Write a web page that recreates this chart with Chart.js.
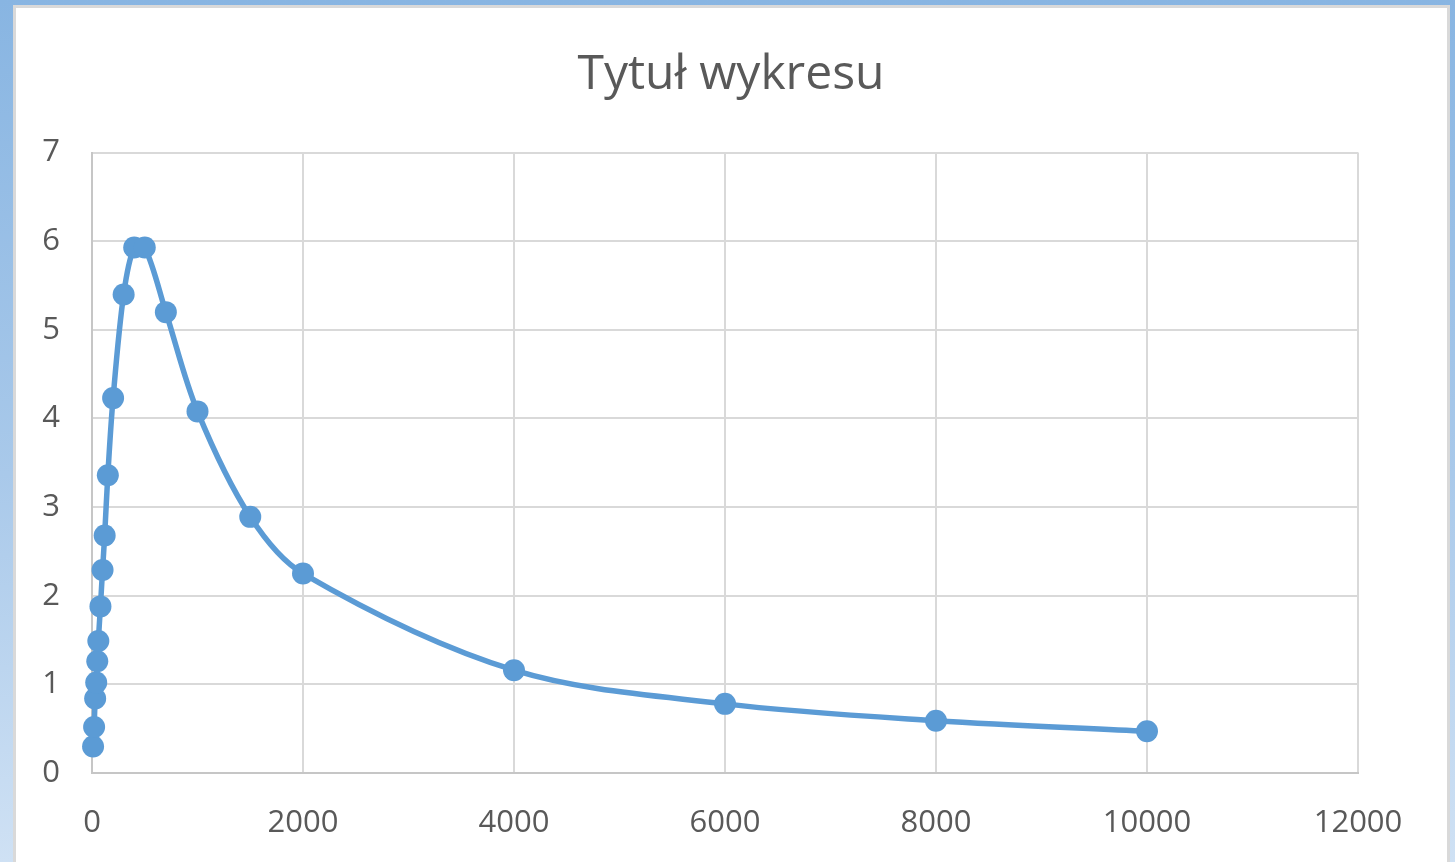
<!DOCTYPE html>
<html>
<head>
<meta charset="utf-8">
<script src="https://cdn.jsdelivr.net/npm/chart.js@4"></script>
<style>
  html, body { margin:0; padding:0; width:1455px; height:862px; overflow:hidden; }
  body { background: linear-gradient(180deg, #88b5e2 0%, #a9c9ea 55%, #cfe1f4 100%); position:relative; }
  #card { position:absolute; left:13px; top:5px; width:1431px; height:900px; background:#fff; border:3px solid #d9d9d9; border-bottom:none; }
  #c { position:absolute; left:0; top:0; }
</style>
</head>
<body>
<div id="card"></div>
<canvas id="c" width="1455" height="862"></canvas>
<script>
const chartTitle = "Tytuł wykresu";
const xValues = [10, 20, 30, 40, 50, 60, 80, 100, 120, 150, 200, 300, 400, 500, 700, 1000, 1500, 2000, 4000, 6000, 8000, 10000];
const yValues = [0.30, 0.52, 0.84, 1.02, 1.26, 1.49, 1.88, 2.29, 2.68, 3.36, 4.23, 5.40, 5.93, 5.93, 5.20, 4.08, 2.89, 2.25, 1.16, 0.78, 0.59, 0.47];
const xTicks = [0, 2000, 4000, 6000, 8000, 10000, 12000];
const yTicks = [0, 1, 2, 3, 4, 5, 6, 7];

const points = xValues.map((x, i) => ({ x: x, y: yValues[i] }));
const textColor = '#595959';
const font = 'Open Sans';

new Chart(document.getElementById('c'), {
  type: 'scatter',
  data: {
    datasets: [{
      data: points,
      showLine: true,
      tension: 0.33,
      borderColor: '#5b9bd5',
      backgroundColor: '#5b9bd5',
      borderWidth: 5.5,
      pointRadius: 11,
      pointHoverRadius: 11,
      pointBorderWidth: 0,
      clip: false
    }]
  },
  options: {
    responsive: false,
    devicePixelRatio: 1,
    animation: false,
    layout: { padding: { left: 7, right: 0, top: 0, bottom: 0 } },
    plugins: {
      legend: { display: false },
      tooltip: { enabled: false },
      title: {
        display: true,
        text: chartTitle,
        color: textColor,
        font: { family: font, size: 48, weight: 'normal' },
        padding: { top: 47, bottom: 48 }
      }
    },
    scales: {
      x: {
        type: 'linear',
        min: xTicks[0],
        max: xTicks[xTicks.length - 1],
        afterBuildTicks: (s) => { s.ticks = xTicks.map(v => ({ value: v })); },
        afterFit: (s) => { s.height = 89; },
        ticks: { color: textColor, font: { family: font, size: 31 }, padding: 32, maxRotation: 0,
                 callback: (v) => String(v) },
        grid: { color: '#d9d9d9', lineWidth: 2, drawTicks: false },
        border: { color: '#c6c6c6', width: 2 }
      },
      y: {
        type: 'linear',
        min: yTicks[0],
        max: yTicks[yTicks.length - 1],
        afterBuildTicks: (s) => { s.ticks = yTicks.map(v => ({ value: v })); },
        afterFit: (s) => { s.width = 85; },
        ticks: { color: textColor, font: { family: font, size: 31 }, padding: 32,
                 callback: (v) => String(v) },
        grid: { color: '#d9d9d9', lineWidth: 2, drawTicks: false },
        border: { color: '#c6c6c6', width: 2 }
      },
      yRight: {
        type: 'linear',
        position: 'right',
        display: true,
        min: 0,
        max: 7,
        afterFit: (s) => { s.width = 97; },
        ticks: { display: false },
        grid: { display: false, drawTicks: false },
        border: { display: false }
      }
    }
  }
});
</script>
</body>
</html>
